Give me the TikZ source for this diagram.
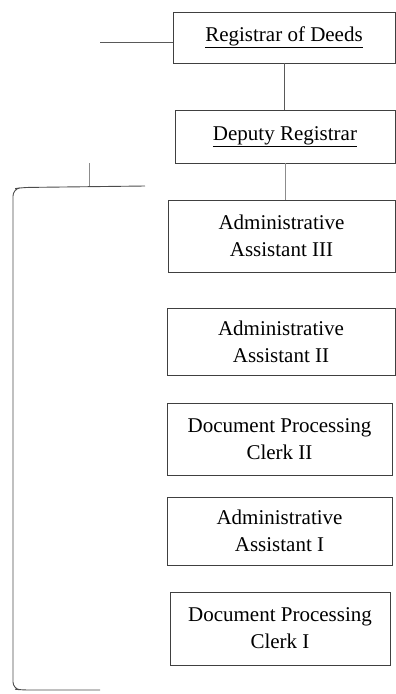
\documentclass[tikz,border=0pt]{standalone}
\usepackage{fontspec}
\setmainfont{Liberation Serif}
\begin{document}
\begin{tikzpicture}[x=1pt,y=-1pt,
  post/.style={draw=black!75, line width=0.9pt, fill=white, inner sep=0pt,
    align=center, font=\fontsize{21}{27}\selectfont},
  link/.style={draw=black!65, line width=0.8pt},
  faint/.style={draw=black!45, line width=0.7pt},
  brace/.style={draw=black!70, line width=0.9pt, rounded corners=7pt}]
\useasboundingbox (0,0) rectangle (396,694);

% chain of posts
\node[post, minimum width=222pt, minimum height=51pt] (reg) at (284,37.5)
  {\underline{Registrar of Deeds}};
\node[post, minimum width=220pt, minimum height=53pt] (dep) at (285,136.5)
  {\underline{Deputy Registrar}};
\node[post, minimum width=227pt, minimum height=72pt] (aa3) at (281.5,236)
  {Administrative\\Assistant III};
\node[post, minimum width=228pt, minimum height=67pt] (aa2) at (281,341.5)
  {Administrative\\Assistant II};
\node[post, minimum width=225pt, minimum height=72pt] (dpc2) at (279.5,439)
  {Document Processing\\Clerk II};
\node[post, minimum width=225pt, minimum height=68pt] (aa1) at (279.5,531)
  {Administrative\\Assistant I};
\node[post, minimum width=220pt, minimum height=73pt] (dpc1) at (280,628.5)
  {Document Processing\\Clerk I};

% reporting lines
\draw[link] (reg.south) -- (reg.south |- dep.north);
\draw[faint] (dep.south) -- (dep.south |- aa3.north);

% line out to the left of the top post
\coordinate (out) at (100,42);
\draw[link] (out) -- (reg.west |- out);

% bracket grouping the staff posts
\coordinate (btop) at (145,186);
\coordinate (bbot) at (100,690);
\coordinate (tick) at (89,163);
\draw[brace] (btop) -- (22,187.5) -- (13,189) -- (13,689) -- (22,690) -- (bbot);
\draw[faint] (tick) -- (tick |- btop);
\end{tikzpicture}
\end{document}
